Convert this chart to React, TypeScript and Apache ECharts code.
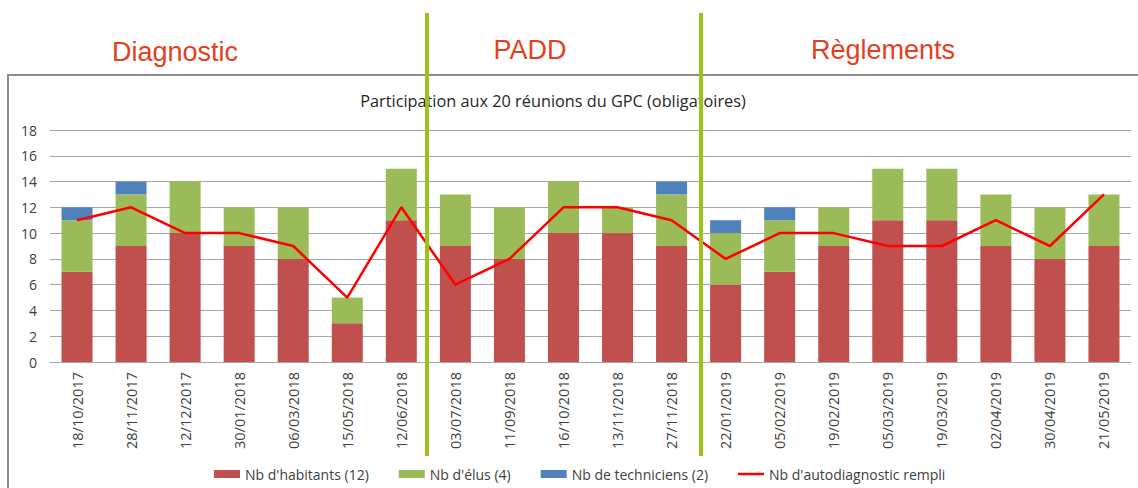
import React, { useEffect, useRef } from "react";
import * as echarts from "echarts";

const categories = [
  "18/10/2017", "28/11/2017", "12/12/2017", "30/01/2018", "06/03/2018",
  "15/05/2018", "12/06/2018", "03/07/2018", "11/09/2018", "16/10/2018",
  "13/11/2018", "27/11/2018", "22/01/2019", "05/02/2019", "19/02/2019",
  "05/03/2019", "19/03/2019", "02/04/2019", "30/04/2019", "21/05/2019",
];
const habitants = [7, 9, 10, 9, 8, 3, 11, 9, 8, 10, 10, 9, 6, 7, 9, 11, 11, 9, 8, 9];
const elus = [4, 4, 4, 3, 4, 2, 4, 4, 4, 4, 2, 4, 4, 4, 3, 4, 4, 4, 4, 4];
const techniciens = [1, 1, 0, 0, 0, 0, 0, 0, 0, 0, 0, 1, 1, 1, 0, 0, 0, 0, 0, 0];
const autodiagnostic = [11, 12, 10, 10, 9, 5, 12, 6, 8, 12, 12, 11, 8, 10, 10, 9, 9, 11, 9, 13];
const seriesNames = [
  "Nb d'habitants (12)",
  "Nb d'élus (4)",
  "Nb de techniciens (2)",
  "Nb d'autodiagnostic rempli",
];
const title = "Participation aux 20 réunions du GPC (obligatoires)";
const phases = ["Diagnostic", "PADD", "Règlements"];

const FONT = "'Open Sans', sans-serif";

export default function App() {
  const ref = useRef<HTMLDivElement>(null);
  useEffect(() => {
    if (!ref.current) return;
    const chart = echarts.init(ref.current, null, { renderer: "svg" });
    const phaseStyle = { fill: "#E5401E", fontSize: 27, fontFamily: "Arial, 'Liberation Sans', sans-serif" };
    chart.setOption({
      animation: false,
      backgroundColor: "#ffffff",
      title: {
        text: title,
        left: 548,
        textAlign: "center",
        top: 88,
        textStyle: { fontFamily: FONT, fontSize: 16.3, fontWeight: "normal", color: "#262626" },
      },
      grid: { left: 50, right: 7, top: 130, bottom: 126, containLabel: false },
      legend: {
        left: 209,
        top: 462,
        itemGap: 30,
        itemWidth: 26,
        itemHeight: 8,
        symbolKeepAspect: true,
        textStyle: { fontFamily: FONT, fontSize: 14, color: "#404040" },
        data: [
          { name: seriesNames[0], icon: "rect" },
          { name: seriesNames[1], icon: "rect" },
          { name: seriesNames[2], icon: "rect" },
          { name: seriesNames[3], icon: "path://M0,0 L26,0 L26,2.5 L0,2.5 Z" },
        ],
      },
      xAxis: {
        type: "category",
        data: categories,
        axisTick: { show: false },
        axisLine: { lineStyle: { color: "#a6a6a6" } },
        axisLabel: {
          rotate: 90,
          interval: 0,
          margin: 10,
          fontFamily: FONT,
          fontSize: 14.5,
          color: "#404040",
        },
      },
      yAxis: {
        type: "value",
        min: 0,
        max: 18,
        interval: 2,
        axisLine: { show: false },
        axisTick: { show: false },
        axisLabel: { fontFamily: FONT, fontSize: 14, color: "#404040", margin: 13 },
        splitLine: { lineStyle: { color: "#a6a6a6", width: 1 } },
      },
      series: [
        {
          name: seriesNames[0],
          type: "bar",
          stack: "total",
          data: habitants,
          barWidth: 31,
          itemStyle: { color: "#C0504D" },
        },
        {
          name: seriesNames[1],
          type: "bar",
          stack: "total",
          data: elus,
          barWidth: 31,
          itemStyle: { color: "#9BBB59" },
        },
        {
          name: seriesNames[2],
          type: "bar",
          stack: "total",
          data: techniciens,
          barWidth: 31,
          itemStyle: { color: "#4F81BD" },
        },
        {
          name: seriesNames[3],
          type: "line",
          data: autodiagnostic,
          symbol: "none",
          lineStyle: { color: "#FF0000", width: 2.5 },
          itemStyle: { color: "#FF0000" },
          z: 5,
        },
      ],
      graphic: [
        {
          type: "rect",
          shape: { x: 8, y: 75, width: 1160, height: 440 },
          style: { fill: "none", stroke: "#8c8c8c", lineWidth: 2 },
          z: 0,
          silent: true,
        },
        {
          type: "line",
          shape: { x1: 427, y1: 13, x2: 427, y2: 456 },
          style: { stroke: "#9DC31B", lineWidth: 4 },
          z: 100,
        },
        {
          type: "line",
          shape: { x1: 701, y1: 13, x2: 701, y2: 456 },
          style: { stroke: "#9DC31B", lineWidth: 4 },
          z: 100,
        },
        { type: "text", x: 175, y: 52, style: { ...phaseStyle, text: phases[0], align: "center", verticalAlign: "middle" } },
        { type: "text", x: 530, y: 50, style: { ...phaseStyle, text: phases[1], align: "center", verticalAlign: "middle" } },
        { type: "text", x: 883, y: 50, style: { ...phaseStyle, text: phases[2], align: "center", verticalAlign: "middle" } },
      ],
    });
    return () => chart.dispose();
  }, []);
  return (
    <div
      ref={ref}
      style={{ position: "fixed", left: 0, top: 0, width: 1138, height: 488 }}
    />
  );
}
